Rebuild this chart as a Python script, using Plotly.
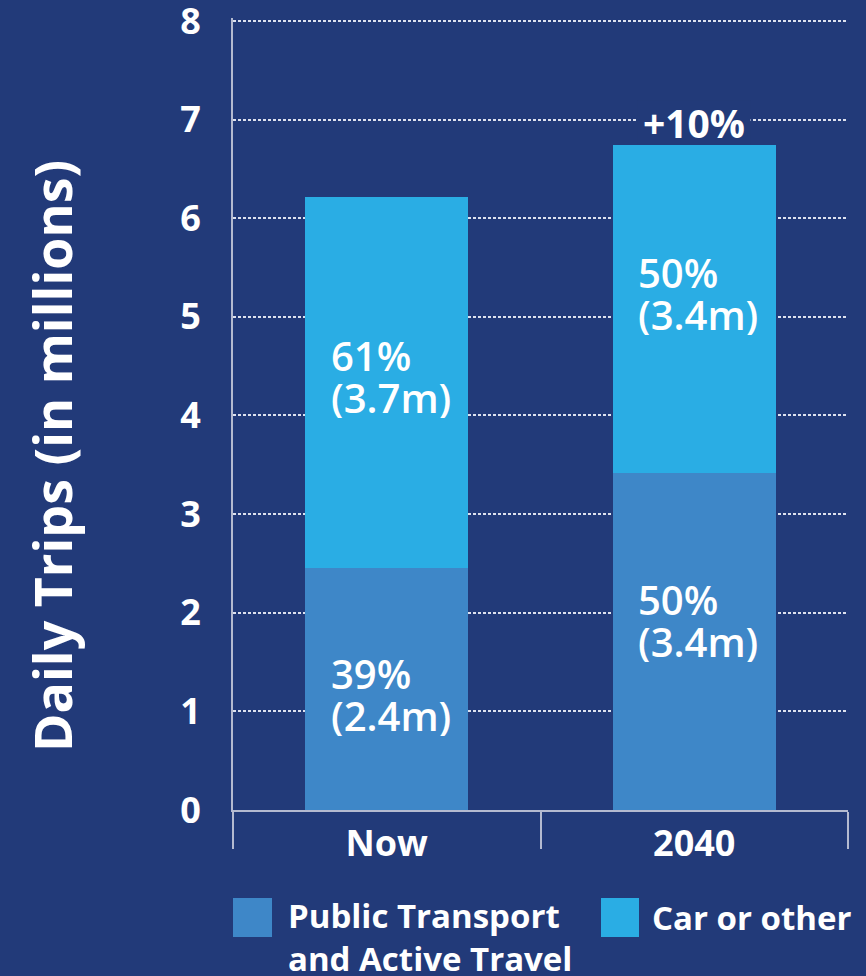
import plotly.graph_objects as go

# ---- data ----
categories = ["Now", "2040"]
public_transport = [2.45, 3.42]   # millions of daily trips
car_other = [3.77, 3.32]          # millions of daily trips
public_pct = ["39%", "50%"]
public_amt = ["(2.4m)", "(3.4m)"]
car_pct = ["61%", "50%"]
car_amt = ["(3.7m)", "(3.4m)"]
growth_label = "+10%"
series_names = ["Public Transport<br>and Active Travel", "Car or other"]
y_ticks = [0, 1, 2, 3, 4, 5, 6, 7, 8]
y_title = "Daily Trips (in millions)"

# ---- style ----
BG = "#223a79"
C_PUBLIC = "#3e87c8"
C_CAR = "#2aade4"
AXIS = "#b4bad0"
GRID = "#dde1ee"
FONT = "Open Sans"
W, H = 866, 976
Y_TOP = 8.03
ML, MR, MT, MB = 233, 18, 18, 166

fig = go.Figure()
fig.add_trace(go.Bar(x=categories, y=public_transport, name=series_names[0],
                     marker=dict(color=C_PUBLIC, line=dict(width=0)), width=0.53,
                     hoverinfo="skip"))
fig.add_trace(go.Bar(x=categories, y=car_other, name=series_names[1],
                     marker=dict(color=C_CAR, line=dict(width=0)), width=0.53,
                     hoverinfo="skip"))

annotations = []
lab_font = dict(family=FONT, size=40, color="white", weight=600)
label_shift_public = [-5, 21]
label_shift_car = [6, 16]
for i, cat in enumerate(categories):
    mid_p = public_transport[i] / 2
    mid_c = public_transport[i] + car_other[i] / 2
    for y, txt1, txt2, sh in [(mid_p, public_pct[i], public_amt[i], label_shift_public[i]),
                              (mid_c, car_pct[i], car_amt[i], label_shift_car[i])]:
        annotations.append(dict(x=i, y=y, xref="x", yref="y", text=txt1, showarrow=False,
                                xanchor="left", yanchor="middle", xshift=-58, yshift=sh + 21,
                                height=42, font=lab_font))
        annotations.append(dict(x=i, y=y, xref="x", yref="y", text=txt2, showarrow=False,
                                xanchor="left", yanchor="middle", xshift=-58, yshift=sh - 21,
                                height=42, font=lab_font))

total_2040 = public_transport[1] + car_other[1]
annotations.append(dict(x=1, y=total_2040, xref="x", yref="y", text=growth_label,
                        showarrow=False, xanchor="center", yanchor="bottom", yshift=1,
                        height=40, width=110, bgcolor=BG, borderpad=1,
                        font=dict(family=FONT, size=39, color="white", weight=700)))

# ---- paper-coordinate helpers ----
pw = W - ML - MR
ph = H - MT - MB
def px_x(px):
    return (px - ML) / pw
def px_y(py):
    return (H - MB - py) / ph

# y-axis title (placed as rotated text to match the reference position)
annotations.append(dict(x=px_x(52), y=px_y(456), xref="paper", yref="paper",
                        text=y_title, showarrow=False, textangle=-90,
                        xanchor="center", yanchor="middle",
                        font=dict(family=FONT, size=52, color="white", weight=700)))

# ---- custom legend (large square swatches) ----
shapes = [
    dict(type="rect", xref="paper", yref="paper", x0=px_x(233), x1=px_x(272),
         y0=px_y(937), y1=px_y(898), fillcolor=C_PUBLIC, line=dict(width=0)),
    dict(type="rect", xref="paper", yref="paper", x0=px_x(601), x1=px_x(639),
         y0=px_y(937), y1=px_y(898), fillcolor=C_CAR, line=dict(width=0)),
]
leg_font = dict(family=FONT, size=33, color="white", weight=700)
annotations.append(dict(x=px_x(286), y=px_y(937), xref="paper", yref="paper",
                        text=series_names[0], showarrow=False, xanchor="left",
                        yanchor="middle", align="left", font=leg_font))
annotations.append(dict(x=px_x(650), y=px_y(917), xref="paper", yref="paper",
                        text=series_names[1], showarrow=False, xanchor="left",
                        yanchor="middle", align="left", font=leg_font))

fig.update_layout(
    width=W, height=H, autosize=False,
    barmode="stack",
    paper_bgcolor=BG, plot_bgcolor=BG,
    margin=dict(l=ML, r=MR, t=MT, b=MB, pad=0, autoexpand=False),
    showlegend=False,
    annotations=annotations,
    shapes=shapes,
    font=dict(family=FONT, color="white"),
)
fig.update_xaxes(
    type="category", range=[-0.5, 1.5], automargin=False,
    showline=True, linecolor=AXIS, linewidth=2,
    ticks="outside", tickson="boundaries", ticklen=37, tickwidth=2, tickcolor=AXIS,
    ticklabelstandoff=1,
    tickfont=dict(family=FONT, size=36, color="white", weight=700),
    showgrid=False, zeroline=False, fixedrange=True,
)
fig.update_yaxes(
    range=[0, Y_TOP], tickvals=y_ticks, automargin=False,
    showline=True, linecolor=AXIS, linewidth=2,
    ticks="", ticklabelstandoff=23, ticklabeloverflow="allow",
    tickfont=dict(family=FONT, size=36, color="white", weight=700),
    showgrid=True, gridcolor=GRID, gridwidth=2, griddash="3px,2px",
    zeroline=False, fixedrange=True,
)

fig.write_html("out.html", config={"displayModeBar": False},
               post_script="document.body.style.margin='0';document.body.style.background='%s';" % BG)
